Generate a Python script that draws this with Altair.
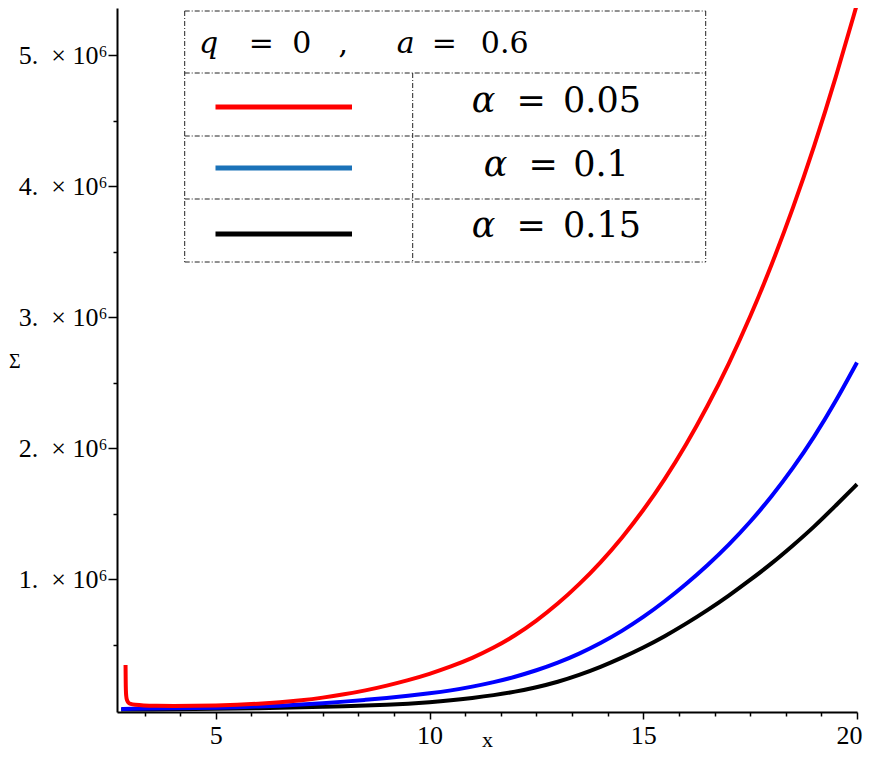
import altair as alt
import pandas as pd

# ---- data (Sigma vs x) ----
RED_X = [2.890, 2.893, 2.897, 2.905, 2.92, 2.95, 3.0, 3.1, 3.3, 3.6, 4.0, 4.5, 5.0, 5.5, 6.0, 6.5, 7.0, 7.5,
         8.0, 8.5, 9.0, 9.5, 10.0, 10.5, 11.0, 11.5, 12.0, 12.5, 13.0, 13.5, 14.0, 14.5, 15.0,
         15.5, 16.0, 16.5, 17.0, 17.5, 18.0, 18.5, 19.0, 19.5, 20.0]
RED_Y = [345000, 230000, 150000, 105000, 78000, 58000, 48000, 42000, 37000, 34500, 33000, 34000, 37000,
         42000, 50000, 61000, 76000, 96000, 121000, 151000, 188000, 229000, 277000, 333000, 398000,
         476000, 569000, 682000, 811000, 960000, 1126000, 1314000, 1524000, 1760000, 2024000,
         2317000, 2641000, 2999000, 3394000, 3828000, 4303000, 4823000, 5390000]

BLUE_X = [2.79, 3.0, 3.5, 4.0, 4.5, 5.0, 5.5, 6.0, 6.5, 7.0, 7.5, 8.0, 8.5, 9.0, 9.5, 10.0, 10.5, 11.0,
          11.5, 12.0, 12.5, 13.0, 13.5, 14.0, 14.5, 15.0, 15.5, 16.0, 16.5, 17.0, 17.5, 18.0, 18.5,
          19.0, 19.5, 20.0]
BLUE_Y = [10000, 11000, 13000, 15000, 17000, 20000, 24000, 29000, 35000, 43000, 53000, 66000, 80000,
          94000, 110000, 129000, 151000, 180000, 214000, 255000, 304000, 362000, 431000, 512000,
          604000, 710000, 830000, 962000, 1105000, 1262000, 1436000, 1630000, 1846000, 2086000,
          2355000, 2655000]

BLACK_X = BLUE_X
BLACK_Y = [5000, 6000, 7000, 8000, 9000, 11000, 13000, 16000, 19000, 23000, 27000, 31000, 36000,
           42000, 50000, 61000, 75000, 94000, 115000, 141000, 175000, 216000, 269000, 330000,
           401000, 478000, 564000, 660000, 763000, 874000, 994000, 1119000, 1257000, 1401000,
           1562000, 1725000]

X_TICKS = [3.3333, 4.1667, 5, 5.8333, 6.6667, 7.5, 8.3333, 9.1667, 10, 10.8333, 11.6667, 12.5,
           13.3333, 14.1667, 15, 15.8333, 16.6667, 17.5, 18.3333, 19.1667, 20]
Y_TICKS = [500000, 1000000, 1500000, 2000000, 2500000, 3000000, 3500000, 4000000, 4500000, 5000000]

LEGEND_TITLE = [("q", True, 91.7), ("=", False, 144.4), ("0", False, 184.7), (",", False, 226.2),
                ("a", True, 288.7), ("=", False, 327.2), ("0.6", False, 387.7)]
LEGEND_LABELS = ["0.05", "0.1", "0.15"]
LEGEND_COLORS = ["#ff0000", "#1b72b8", "#000000"]

rows = []
for name, xs, ys in [("black", BLACK_X, BLACK_Y), ("blue", BLUE_X, BLUE_Y), ("red", RED_X, RED_Y)]:
    for a, b in zip(xs, ys):
        rows.append({"s": name, "x": a, "y": b})
df = pd.DataFrame(rows)

SERIF = "Liberation Serif"
xscale = alt.Scale(domain=[2.69, 20], nice=False, zero=False)
yscale = alt.Scale(domain=[-13000, 5360000], nice=False, zero=False)

xaxis = alt.Axis(
    values=X_TICKS,
    labelExpr="datum.value % 5 === 0 ? format(datum.value, 'd') : ''",
    tickSize={"condition": {"test": "datum.value % 5 === 0", "value": 7}, "value": 4},
    tickColor="black", tickWidth=1.5, domainColor="black", domainWidth=2,
    labelFont=SERIF, labelFontSize=26, labelColor="black", labelPadding=3,
    labelFlush=True, labelFlushOffset=5, labelOverlap=False, grid=False,
    title="x", titleFont=SERIF, titleFontSize=22, titleFontWeight="normal", titleColor="black",
    titleY=39, titleBaseline="bottom",
)
yaxis = alt.Axis(
    values=Y_TICKS,
    labelExpr="datum.value % 1000000 === 0 ? format(datum.value / 1000000, 'd') + '.\u2002\u00d7 10\u2076' : ''",
    tickSize={"condition": {"test": "datum.value % 1000000 === 0", "value": 9}, "value": 4},
    tickColor="black", tickWidth=1.5, domainColor="black", domainWidth=2,
    labelFont=SERIF, labelFontSize=26, labelColor="black", labelPadding=1,
    labelFlush=False, labelOverlap=False, grid=False,
    title="\u03a3", titleFont=SERIF, titleFontSize=20, titleFontWeight="normal", titleColor="black",
    titleAngle=0, titleX=-108.5, titleY=353, titleAlign="left", titleBaseline="middle",
)

base = alt.Chart(df).encode(
    x=alt.X("x:Q", scale=xscale, axis=xaxis),
    y=alt.Y("y:Q", scale=yscale, axis=yaxis),
)
curve_colors = {"black": "#000000", "blue": "#0000ff", "red": "#ff0000"}
layers = []
for name in ["black", "blue", "red"]:
    layers.append(
        base.transform_filter(alt.datum.s == name).mark_line(
            color=curve_colors[name], strokeWidth=4, clip=False, interpolate="basis"
        )
    )

one = pd.DataFrame({"d": [0]})
BOX_L, BOX_R, BOX_T, BOX_B = 67.7, 588.7, 3, 254
ROW_Y = [65, 128, 191]
DIV_X = 295.7
dash = [5, 2, 1, 2]
border = dict(color="#222222", strokeWidth=1, strokeDash=dash)

# table background
layers.append(alt.Chart(one).mark_rect(color="white").encode(
    x=alt.value(BOX_L), x2=alt.value(BOX_R), y=alt.value(BOX_T), y2=alt.value(BOX_B)))
for yy in [BOX_T, BOX_B] + ROW_Y:
    layers.append(alt.Chart(one).mark_rule(**border).encode(
        x=alt.value(BOX_L), x2=alt.value(BOX_R), y=alt.value(yy)))
for xx in [BOX_L, BOX_R]:
    layers.append(alt.Chart(one).mark_rule(**border).encode(
        x=alt.value(xx), y=alt.value(BOX_T), y2=alt.value(BOX_B)))
layers.append(alt.Chart(one).mark_rule(**border).encode(
    x=alt.value(DIV_X), y=alt.value(ROW_Y[0]), y2=alt.value(BOX_B)))

TFONT = "DejaVu Serif"
for txt, ital, xx in LEGEND_TITLE:
    layers.append(alt.Chart(one).mark_text(
        font=TFONT, fontSize=30, fontStyle="italic" if ital else "normal",
        align="center", baseline="alphabetic", color="black").encode(
        text=alt.value(txt), x=alt.value(xx), y=alt.value(45.3)))

LINE_Y = [99, 160, 226]
TEXT_Y = [103.7, 168, 229]
ALPHA_X = [366.5, 378.5, 366.5]
EQ_X = [414.2, 426.2, 414.2]
NUM_X = [485, 484, 485]
for i, (lab, col) in enumerate(zip(LEGEND_LABELS, LEGEND_COLORS)):
    layers.append(alt.Chart(one).mark_rule(color=col, strokeWidth=5).encode(
        x=alt.value(98.5), x2=alt.value(235), y=alt.value(LINE_Y[i])))
    layers.append(alt.Chart(one).mark_text(
        font=TFONT, fontSize=35, fontStyle="italic", align="center", baseline="alphabetic",
        color="black").encode(text=alt.value("\u03b1"), x=alt.value(ALPHA_X[i]), y=alt.value(TEXT_Y[i])))
    layers.append(alt.Chart(one).mark_text(
        font=TFONT, fontSize=35, align="center", baseline="alphabetic", color="black").encode(
        text=alt.value("="), x=alt.value(EQ_X[i]), y=alt.value(TEXT_Y[i])))
    layers.append(alt.Chart(one).mark_text(
        font=TFONT, fontSize=35, align="center", baseline="alphabetic", color="black").encode(
        text=alt.value(lab), x=alt.value(NUM_X[i]), y=alt.value(TEXT_Y[i])))

chart = alt.layer(*layers).properties(
    width=740, height=704,
    padding={"left": 109, "top": 0, "right": 7, "bottom": 40},
    autosize=alt.AutoSizeParams(type="none"),
    background="white",
).configure_view(stroke=None)

chart.save("out.html", embed_options={"renderer": "svg", "actions": False})
